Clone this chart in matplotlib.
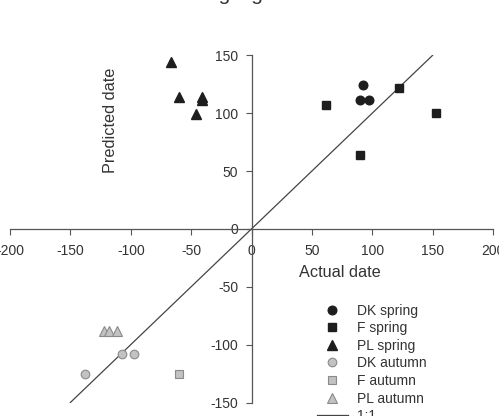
import matplotlib
matplotlib.use("Agg")
import matplotlib.pyplot as plt

plt.rcParams['font.family'] = ['Liberation Sans', 'DejaVu Sans']

# Data (actual date, predicted date)
dk_spring_x = [92, 90, 97]
dk_spring_y = [124, 111, 111]
f_spring_x = [62, 90, 122, 153]
f_spring_y = [107, 64, 122, 100]
pl_spring_x = [-67, -60, -46, -41, -41]
pl_spring_y = [144, 114, 99, 114, 111]
dk_autumn_x = [-138, -107, -97]
dk_autumn_y = [-125, -108, -108]
f_autumn_x = [-60]
f_autumn_y = [-125]
pl_autumn_x = [-122, -118, -111]
pl_autumn_y = [-88, -88, -88]
line_x = [-150, 150]
line_y = [-150, 150]

xticks = [-200, -150, -100, -50, 0, 50, 100, 150, 200]
yticks = [-150, -100, -50, 0, 50, 100, 150]

dark = '#1e1e1e'
grey_face = '#c2c2c2'
grey_edge = '#8a8a8a'
text_c = '#333333'
axis_c = '#555555'

fig = plt.figure(figsize=(4.99, 4.16), dpi=100)
ax = fig.add_axes([10/499, 1 - 402.5/416, 483/499, (402.5 - 55.3)/416])
ax.set_xlim(-200, 200)
ax.set_ylim(-150, 150)

ax.plot(line_x, line_y, color='#444444', lw=0.9, label='1:1', zorder=2)
ax.plot(dk_spring_x, dk_spring_y, 'o', ms=6.2, color=dark, mec=dark, label='DK spring', zorder=3)
ax.plot(f_spring_x, f_spring_y, 's', ms=5.4, color=dark, mec=dark, label='F spring', zorder=3)
ax.plot(pl_spring_x, pl_spring_y, '^', ms=6.5, color=dark, mec=dark, label='PL spring', zorder=3)
ax.plot(dk_autumn_x, dk_autumn_y, 'o', ms=6.2, color=grey_face, mec=grey_edge, mew=0.8, label='DK autumn', zorder=3)
ax.plot(f_autumn_x, f_autumn_y, 's', ms=5.4, color=grey_face, mec=grey_edge, mew=0.8, label='F autumn', zorder=3)
ax.plot(pl_autumn_x, pl_autumn_y, '^', ms=6.5, color=grey_face, mec=grey_edge, mew=0.8, label='PL autumn', zorder=3)

for s in ['top', 'right']:
    ax.spines[s].set_visible(False)
ax.spines['left'].set_position(('data', 0))
ax.spines['bottom'].set_position(('data', 0))
ax.spines['left'].set_bounds(-150, 150)
for s in ['left', 'bottom']:
    ax.spines[s].set_color(axis_c)
    ax.spines[s].set_linewidth(0.9)

ax.set_xticks(xticks)
ax.set_yticks(yticks)
ax.set_xticklabels([str(v) for v in xticks])
ax.set_yticklabels([str(v) for v in yticks])
ax.tick_params(axis='x', direction='out', length=4.5, width=0.8, color=axis_c,
               labelsize=10, labelcolor=text_c, pad=6.5)
ax.tick_params(axis='y', direction='out', length=4.5, width=0.8, color=axis_c,
               labelsize=10, labelcolor=text_c, pad=5)
for lab in ax.get_xticklabels() + ax.get_yticklabels():
    lab.set_clip_on(False)

ax.text(73, -38, 'Actual date', fontsize=11.7, color=text_c, ha='center', va='center')
ax.text(-117, 94, 'Predicted date', fontsize=11.7, color=text_c, ha='center', va='center',
        rotation=90)

fig.text(244/499, 1 + 0.5/416, 'Fledgling date', fontsize=15, color=text_c,
         ha='center', va='baseline')

h, l = ax.get_legend_handles_labels()
order = [1, 2, 3, 4, 5, 6, 0]
leg = ax.legend([h[i] for i in order], [l[i] for i in order],
                loc='upper left', bbox_to_anchor=(317/499, 1 - 303.5/416),
                bbox_transform=fig.transFigure, frameon=False, fontsize=10,
                borderpad=0, borderaxespad=0, handlelength=2.2, handletextpad=0.65,
                labelspacing=0.26, numpoints=1)
for t in leg.get_texts():
    t.set_color(text_c)

fig.savefig('out.png', dpi=100)
